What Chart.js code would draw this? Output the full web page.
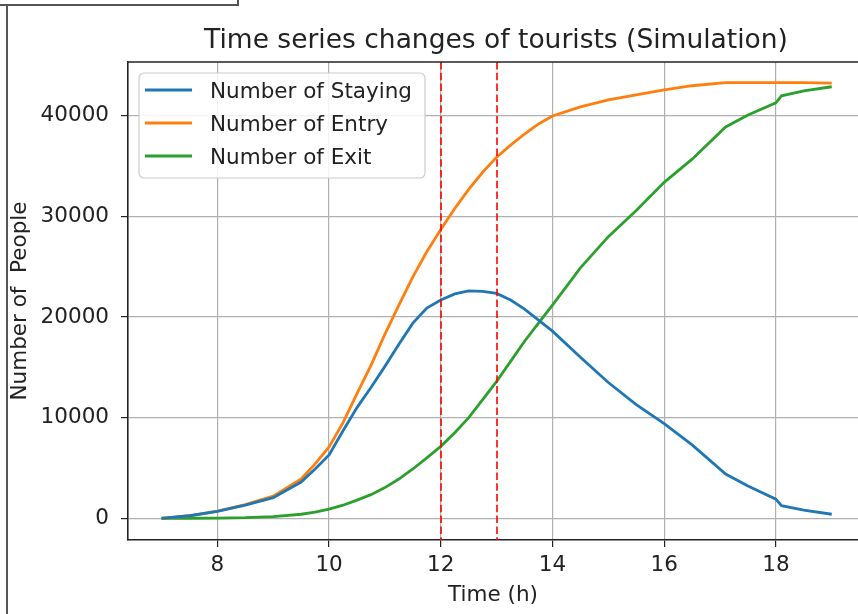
<!DOCTYPE html>
<html>
<head>
<meta charset="utf-8">
<script src="https://cdn.jsdelivr.net/npm/chart.js@4/dist/chart.umd.min.js"></script>
<style>
  html, body { margin: 0; padding: 0; background: #fff; overflow: hidden; }
  #wrap { width: 858px; height: 614px; }
</style>
</head>
<body>
<div id="wrap"><canvas id="tourists" width="858" height="614"></canvas></div>
<script>
// values
const times = [7, 7.5, 8, 8.5, 9, 9.5, 9.75, 10, 10.25, 10.5, 10.75, 11, 11.25, 11.5, 11.75, 12, 12.25, 12.5, 12.75, 13, 13.25, 13.5, 13.75, 14, 14.5, 15, 15.5, 16, 16.5, 17.1, 17.5, 18, 18.1, 18.5, 19];
const staying = [0, 250, 680, 1300, 2050, 3600, 4900, 6300, 8700, 11000, 13000, 15100, 17300, 19400, 20900, 21700, 22300, 22600, 22550, 22350, 21700, 20800, 19700, 18600, 16000, 13500, 11300, 9400, 7300, 4400, 3200, 1900, 1250, 800, 400];
const entry = [0, 250, 700, 1350, 2200, 3900, 5400, 7100, 9500, 12400, 15200, 18300, 21200, 24000, 26500, 28700, 30800, 32700, 34400, 35900, 37100, 38200, 39200, 40000, 40900, 41600, 42100, 42600, 43000, 43300, 43300, 43300, 43300, 43300, 43250];
const exits = [0, 0, 20, 60, 170, 400, 600, 900, 1300, 1800, 2350, 3050, 3900, 4900, 6000, 7150, 8500, 10000, 11800, 13600, 15600, 17600, 19400, 21200, 24900, 28000, 30600, 33400, 35700, 38900, 40100, 41300, 42000, 42500, 42900];

const seriesLabels = ['Number of Staying', 'Number of Entry', 'Number of Exit'];
const seriesColors = ['#1f77b4', '#ff7f0e', '#2ca02c'];
const xTicks = [8, 10, 12, 14, 16, 18];
const yTicks = [0, 10000, 20000, 30000, 40000];
const markerTimes = [12, 13];

const FONT = 'DejaVu Sans';
Chart.defaults.font.family = FONT;
Chart.defaults.color = '#222';

const toPoints = (ys) => times.map((t, i) => ({ x: t, y: ys[i] }));

// background, frame leftovers, dashed markers, top spine, legend, title
const decorations = {
    id: 'decorations',
    beforeDraw(chart) {
        const ctx = chart.ctx;
        ctx.save();
        ctx.fillStyle = '#fff';
        ctx.fillRect(0, 0, chart.width, chart.height);
        ctx.strokeStyle = '#555';
        ctx.lineWidth = 2;
        ctx.beginPath();
        ctx.moveTo(0, 5); ctx.lineTo(238, 5); ctx.lineTo(238, 0);
        ctx.moveTo(7, 5); ctx.lineTo(7, chart.height);
        ctx.stroke();
        ctx.restore();
    },
    afterDatasetsDraw(chart) {
        const ctx = chart.ctx;
        const area = chart.chartArea;
        const x = chart.scales.x;
        ctx.save();
        // vertical markers
        ctx.strokeStyle = '#ff0000';
        ctx.lineWidth = 1.6;
        ctx.setLineDash([7.5, 3.3]);
        markerTimes.forEach((t) => {
            const px = Math.round(x.getPixelForValue(t));
            ctx.beginPath();
            ctx.moveTo(px, area.top);
            ctx.lineTo(px, area.bottom);
            ctx.stroke();
        });
        ctx.setLineDash([]);
        // top spine
        ctx.strokeStyle = '#222';
        ctx.lineWidth = 1.6;
        ctx.beginPath();
        ctx.moveTo(area.left, area.top);
        ctx.lineTo(area.right, area.top);
        ctx.stroke();
        // legend
        const lx = area.left + 11, ly = area.top + 11, lw = 286, lh = 105;
        ctx.beginPath();
        ctx.roundRect(lx, ly, lw, lh, 5);
        ctx.fillStyle = 'rgba(255,255,255,0.85)';
        ctx.fill();
        ctx.strokeStyle = '#cccccc';
        ctx.lineWidth = 1.2;
        ctx.stroke();
        ctx.font = '21.5px "' + FONT + '"';
        ctx.textBaseline = 'alphabetic';
        ctx.textAlign = 'left';
        chart.data.datasets.forEach((ds, i) => {
            const cy = ly + 17 + i * 33;
            ctx.strokeStyle = ds.borderColor;
            ctx.lineWidth = 2.8;
            ctx.beginPath();
            ctx.moveTo(lx + 6, cy);
            ctx.lineTo(lx + 53, cy);
            ctx.stroke();
            ctx.fillStyle = '#222';
            ctx.fillText(ds.label, lx + 71, cy + 8);
        });
        ctx.restore();
    },
    afterDraw(chart) {
        const ctx = chart.ctx;
        const area = chart.chartArea;
        ctx.save();
        ctx.font = '26.5px "' + FONT + '"';
        ctx.fillStyle = '#222';
        ctx.textAlign = 'center';
        ctx.textBaseline = 'alphabetic';
        ctx.fillText('Time series changes of tourists (Simulation)', (area.left + area.right) / 2 + 3, 48);
        ctx.restore();
    }
};

new Chart(document.getElementById('tourists'), {
    type: 'line',
    data: {
        datasets: [
            { label: seriesLabels[0], data: toPoints(staying), borderColor: seriesColors[0] },
            { label: seriesLabels[1], data: toPoints(entry), borderColor: seriesColors[1] },
            { label: seriesLabels[2], data: toPoints(exits), borderColor: seriesColors[2] }
        ]
    },
    plugins: [decorations],
    options: {
        responsive: false,
        devicePixelRatio: 1,
        animation: false,
        layout: { padding: { top: 62, right: 0, bottom: 0, left: 0 } },
        elements: {
            line: { borderWidth: 2.8, tension: 0, fill: false },
            point: { radius: 0, hoverRadius: 0 }
        },
        plugins: {
            legend: { display: false },
            title: { display: false },
            tooltip: { enabled: false }
        },
        scales: {
            x: {
                type: 'linear',
                min: 6.4,
                max: 19.47,
                afterBuildTicks: (scale) => { scale.ticks = xTicks.map((v) => ({ value: v })); },
                afterFit: (scale) => { scale.height = 74; },
                ticks: {
                    font: { size: 21.5, lineHeight: 1.2 },
                    color: '#222',
                    padding: 6,
                    maxRotation: 0,
                    autoSkip: false,
                    callback: (v) => String(v)
                },
                grid: { color: '#b0b0b0', lineWidth: 1.2, tickLength: 7, tickColor: '#222' },
                border: { display: true, color: '#222', width: 1.6 },
                title: {
                    display: true,
                    text: 'Time (h)',
                    font: { size: 21.5, lineHeight: 1.2 },
                    color: '#222',
                    padding: { top: 0, bottom: 6 }
                }
            },
            y: {
                type: 'linear',
                min: -2160,
                max: 45360,
                afterBuildTicks: (scale) => { scale.ticks = yTicks.map((v) => ({ value: v })); },
                afterFit: (scale) => { scale.width = 128; },
                ticks: {
                    font: { size: 21.5, lineHeight: 1.2 },
                    color: '#222',
                    padding: 12,
                    autoSkip: false,
                    callback: (v) => String(v)
                },
                grid: { color: '#b0b0b0', lineWidth: 1.2, tickLength: 7, tickColor: '#222' },
                border: { display: true, color: '#222', width: 1.6 },
                title: {
                    display: true,
                    text: 'Number of  People',
                    font: { size: 21.5, lineHeight: 1.2 },
                    color: '#222',
                    padding: { top: 8, bottom: 0 }
                }
            }
        }
    }
});
</script>
</body>
</html>
